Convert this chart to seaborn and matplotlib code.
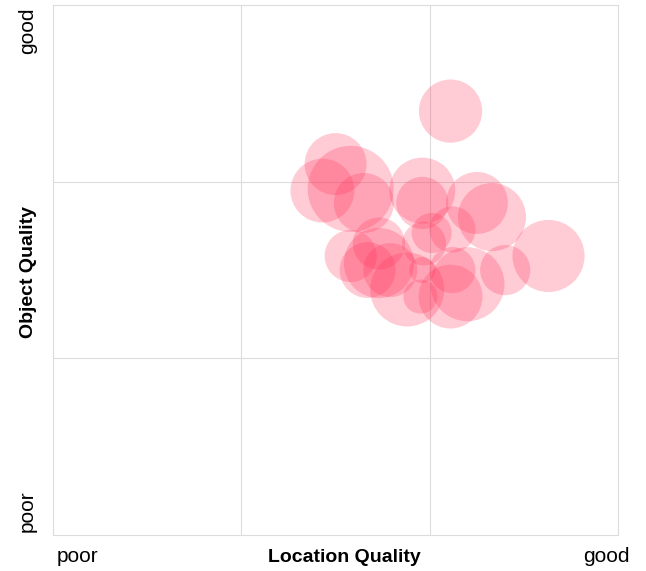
import numpy as np
import pandas as pd
import matplotlib.pyplot as plt
import seaborn as sns

# ------------------------------------------------------------
# data: location score, object score (0..3), bubble weight
# ------------------------------------------------------------
location = [2.11, 1.50, 1.43, 1.58, 1.65, 1.96, 1.96, 2.25, 2.33, 2.12,
            2.01, 2.63, 2.40, 1.58, 1.73, 1.67, 1.88, 1.96, 1.95, 2.11,
            2.20, 2.12, 1.97, 1.79, 1.73]
objects  = [2.40, 2.10, 1.95, 1.96, 1.88, 1.95, 1.88, 1.88, 1.80, 1.73,
            1.71, 1.58, 1.50, 1.58, 1.65, 1.50, 1.39, 1.50, 1.35, 1.35,
            1.42, 1.50, 1.65, 1.50, 1.54]
weight   = [10.0, 9.6, 10.2, 18.5, 9.0, 10.9, 6.8, 9.6, 11.6, 5.3,
            4.0, 13.0, 6.3, 6.8, 6.8, 7.8, 13.7, 1.7, 2.9, 10.2,
            13.7, 5.3, 4.8, 7.3, 12.3]

df = pd.DataFrame({"location": location, "object": objects, "weight": weight})

sns.set_theme(style="white")
plt.rcParams["font.family"] = ["Liberation Sans", "DejaVu Sans"]
plt.rcParams["text.color"] = "black"

fig = plt.figure(figsize=(6.46, 5.71), dpi=100)
ax = fig.add_axes([0.082, 0.063, 0.875, 0.928])

# radius px -> s: r_px^2 * 100 (weight) * (2*0.72)^2
s_max = 18.5 * 100 * (2 * 0.72) ** 2
sns.scatterplot(data=df, x="location", y="object", size="weight",
                sizes=(0, s_max), size_norm=(0, 18.5), color="#ff325a",
                alpha=0.25, linewidth=0, legend=False, ax=ax)

ax.set_xlim(0, 3)
ax.set_ylim(0, 3)
ax.set_xticks([1, 2])
ax.set_yticks([1, 2])
ax.set_xticklabels([])
ax.set_yticklabels([])
ax.tick_params(length=0)
ax.grid(True, color="#dcdcdc", linewidth=0.8)
ax.set_axisbelow(True)
for sp in ax.spines.values():
    sp.set_color("#dcdcdc")
    sp.set_linewidth(0.8)
ax.set_xlabel("")
ax.set_ylabel("")

fs_tick = 15
fs_lab = 14
ax.text(0.0065, -0.041, "poor", transform=ax.transAxes, ha="left", va="center", fontsize=fs_tick)
ax.text(1.021, -0.041, "good", transform=ax.transAxes, ha="right", va="center", fontsize=fs_tick)
ax.text(0.515, -0.043, "Location Quality", transform=ax.transAxes, ha="center",
        va="center", fontsize=fs_lab, fontweight="bold")
ax.text(-0.045, 0.952, "good", transform=ax.transAxes, ha="center", va="center",
        rotation=90, fontsize=fs_tick)
ax.text(-0.045, 0.045, "poor", transform=ax.transAxes, ha="center", va="center",
        rotation=90, fontsize=fs_tick)
ax.text(-0.043, 0.497, "Object Quality", transform=ax.transAxes, ha="center",
        va="center", rotation=90, fontsize=fs_lab, fontweight="bold")

fig.savefig("out.png", dpi=100)
